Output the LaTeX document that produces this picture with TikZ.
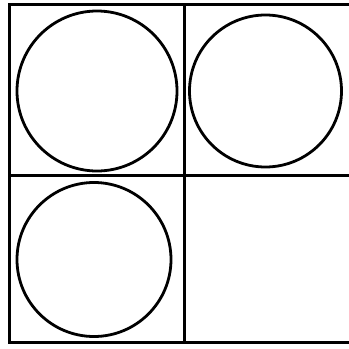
\documentclass[tikz,border=0pt]{standalone}
\usepackage{tikz}
\usetikzlibrary{positioning}

\begin{document}
\begin{tikzpicture}[
  x=1pt, y=-1pt,
  grid/.style={line width=3pt},
  ring/.style={circle, draw, line width=2.8pt, inner sep=0pt},
]
  \useasboundingbox (0,0) rectangle (349,349);

  % Cadre et separations
  \begin{scope}
    \clip (0,0) rectangle (349,349);
    \draw[grid] (9.5,4) rectangle (351,342.5);
  \end{scope}
  \draw[grid] (184,4) -- (184,342.5);
  \draw[grid] (9.5,175) -- (349,175);

  % Cercles
  \node[ring, minimum size=160pt] (c1) at (97,91) {};
  \node[ring, minimum size=152pt] (c2) at (265.5,91) {};
  \node[ring, minimum size=154pt] (c3) at (94,259.5) {};
\end{tikzpicture}
\end{document}
